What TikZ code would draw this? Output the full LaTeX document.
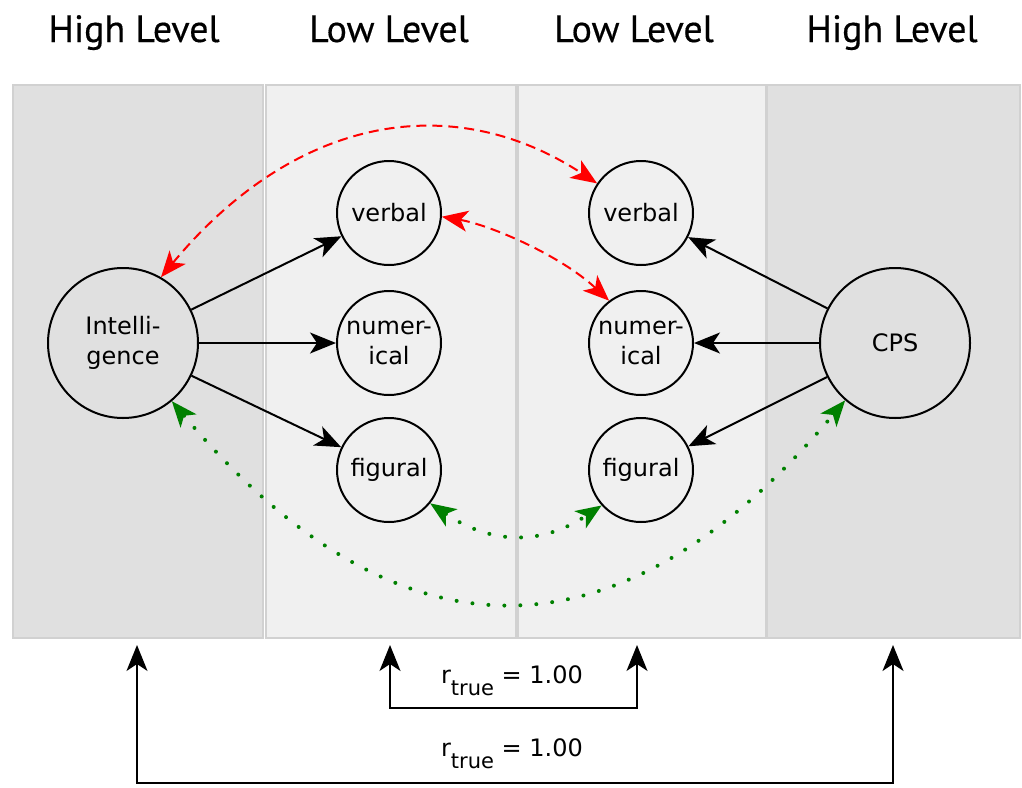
\documentclass[tikz,border=0pt]{standalone}
\usepackage{fontspec}
\setmainfont{DejaVu Sans}
\newfontfamily\headfont[FakeBold=0.4]{PT Sans}
\usepackage{tikz}
\usetikzlibrary{arrows.meta}

\definecolor{highgray}{HTML}{E0E0E0}
\definecolor{lowgray}{HTML}{F0F0F0}
\definecolor{corrgreen}{HTML}{008000}

\begin{document}
\begin{tikzpicture}[x=0.5pt,y=-0.5pt,
  big/.style={circle,draw,line width=1pt,minimum size=75pt,inner sep=0pt,align=center,font=\fontsize{12}{15}\selectfont},
  small/.style={circle,draw,line width=1pt,minimum size=52pt,inner sep=0pt,align=center,font=\fontsize{12}{15}\selectfont},
  head/.style={anchor=base,font=\headfont\fontsize{19}{22}\selectfont},
  rlab/.style={anchor=base,font=\fontsize{12}{15}\selectfont},
  load/.style={line width=1pt,-{Stealth[length=13pt,width=10.5pt,inset=3.5pt]}},
  redcorr/.style={red,line width=1pt,dash pattern=on 5pt off 3pt,{Stealth[length=13pt,width=10.5pt,inset=3.5pt]}-{Stealth[length=13pt,width=10.5pt,inset=3.5pt]}},
  greencorr/.style={corrgreen,line width=2pt,dash pattern=on 0pt off 8pt,line cap=round,{Stealth[length=13pt,width=10.5pt,inset=3.5pt,line width=0pt]}-{Stealth[length=13pt,width=10.5pt,inset=3.5pt,line width=0pt]}},
  rtrue/.style={line width=1pt,{Stealth[length=13pt,width=10.5pt,inset=3.5pt]}-{Stealth[length=13pt,width=10.5pt,inset=3.5pt]}}]

\useasboundingbox (0,0) rectangle (1022,787);

% panels
\foreach \xa/\xb/\fillcol in {13/263/highgray,266/516/lowgray,518/766/lowgray,767/1020/highgray}
\draw[fill=\fillcol,draw=black!18,line width=1pt] (\xa,85) rectangle (\xb,638);

% headings
\node[head] (hl) at (134,42) {High Level};
\node[head] (ll) at (389,42) {Low Level};
\node[head] (lr) at (634,42) {Low Level};
\node[head] (hr) at (892,42) {High Level};

% factors
\node[big] (intel) at (123,343) {Intelli-\\gence};
\node[big] (cps) at (895,343) {CPS};

\node[small] (lverb) at (389,213) {verbal};
\node[small] (lnum) at (389,343) {numer-\\ical};
\node[small] (lfig) at (389,470) {figural};
\node[small] (rverb) at (641,213) {verbal};
\node[small] (rnum) at (641,343) {numer-\\ical};
\node[small] (rfig) at (641,470) {figural};

% loadings
\foreach \s in {lverb,lnum,lfig}
\draw[load] (intel) -- (\s);
\foreach \s in {rverb,rnum,rfig}
\draw[load] (cps) -- (\s);

% correlations
\draw[redcorr] (intel.60) .. controls (300,110) and (458,92) .. (rverb.146);
\draw[redcorr] (lverb.-4) .. controls (490,225) and (560,255) .. (rnum.127);
\draw[greencorr] (lfig.-39) .. controls (492,545) and (542,545) .. (rfig.-138);
\draw[greencorr] (intel.-50) .. controls (397,669) and (620,669) .. (cps.-131);

% r true
\coordinate (inl) at (390,645);
\coordinate (inlb) at (390,708);
\coordinate (inrb) at (637,708);
\coordinate (inr) at (637,645);
\draw[rtrue] (inl) -- (inlb) -- (inrb) -- (inr);
\node[rlab] (rin) at (512,683) {r\raisebox{-6pt}{\fontsize{10.5}{13}\selectfont true} = 1.00};

\coordinate (outl) at (137,645);
\coordinate (outlb) at (137,783);
\coordinate (outrb) at (893,783);
\coordinate (outr) at (893,645);
\draw[rtrue] (outl) -- (outlb) -- (outrb) -- (outr);
\node[rlab] (rout) at (512,756) {r\raisebox{-6pt}{\fontsize{10.5}{13}\selectfont true} = 1.00};

\end{tikzpicture}
\end{document}
